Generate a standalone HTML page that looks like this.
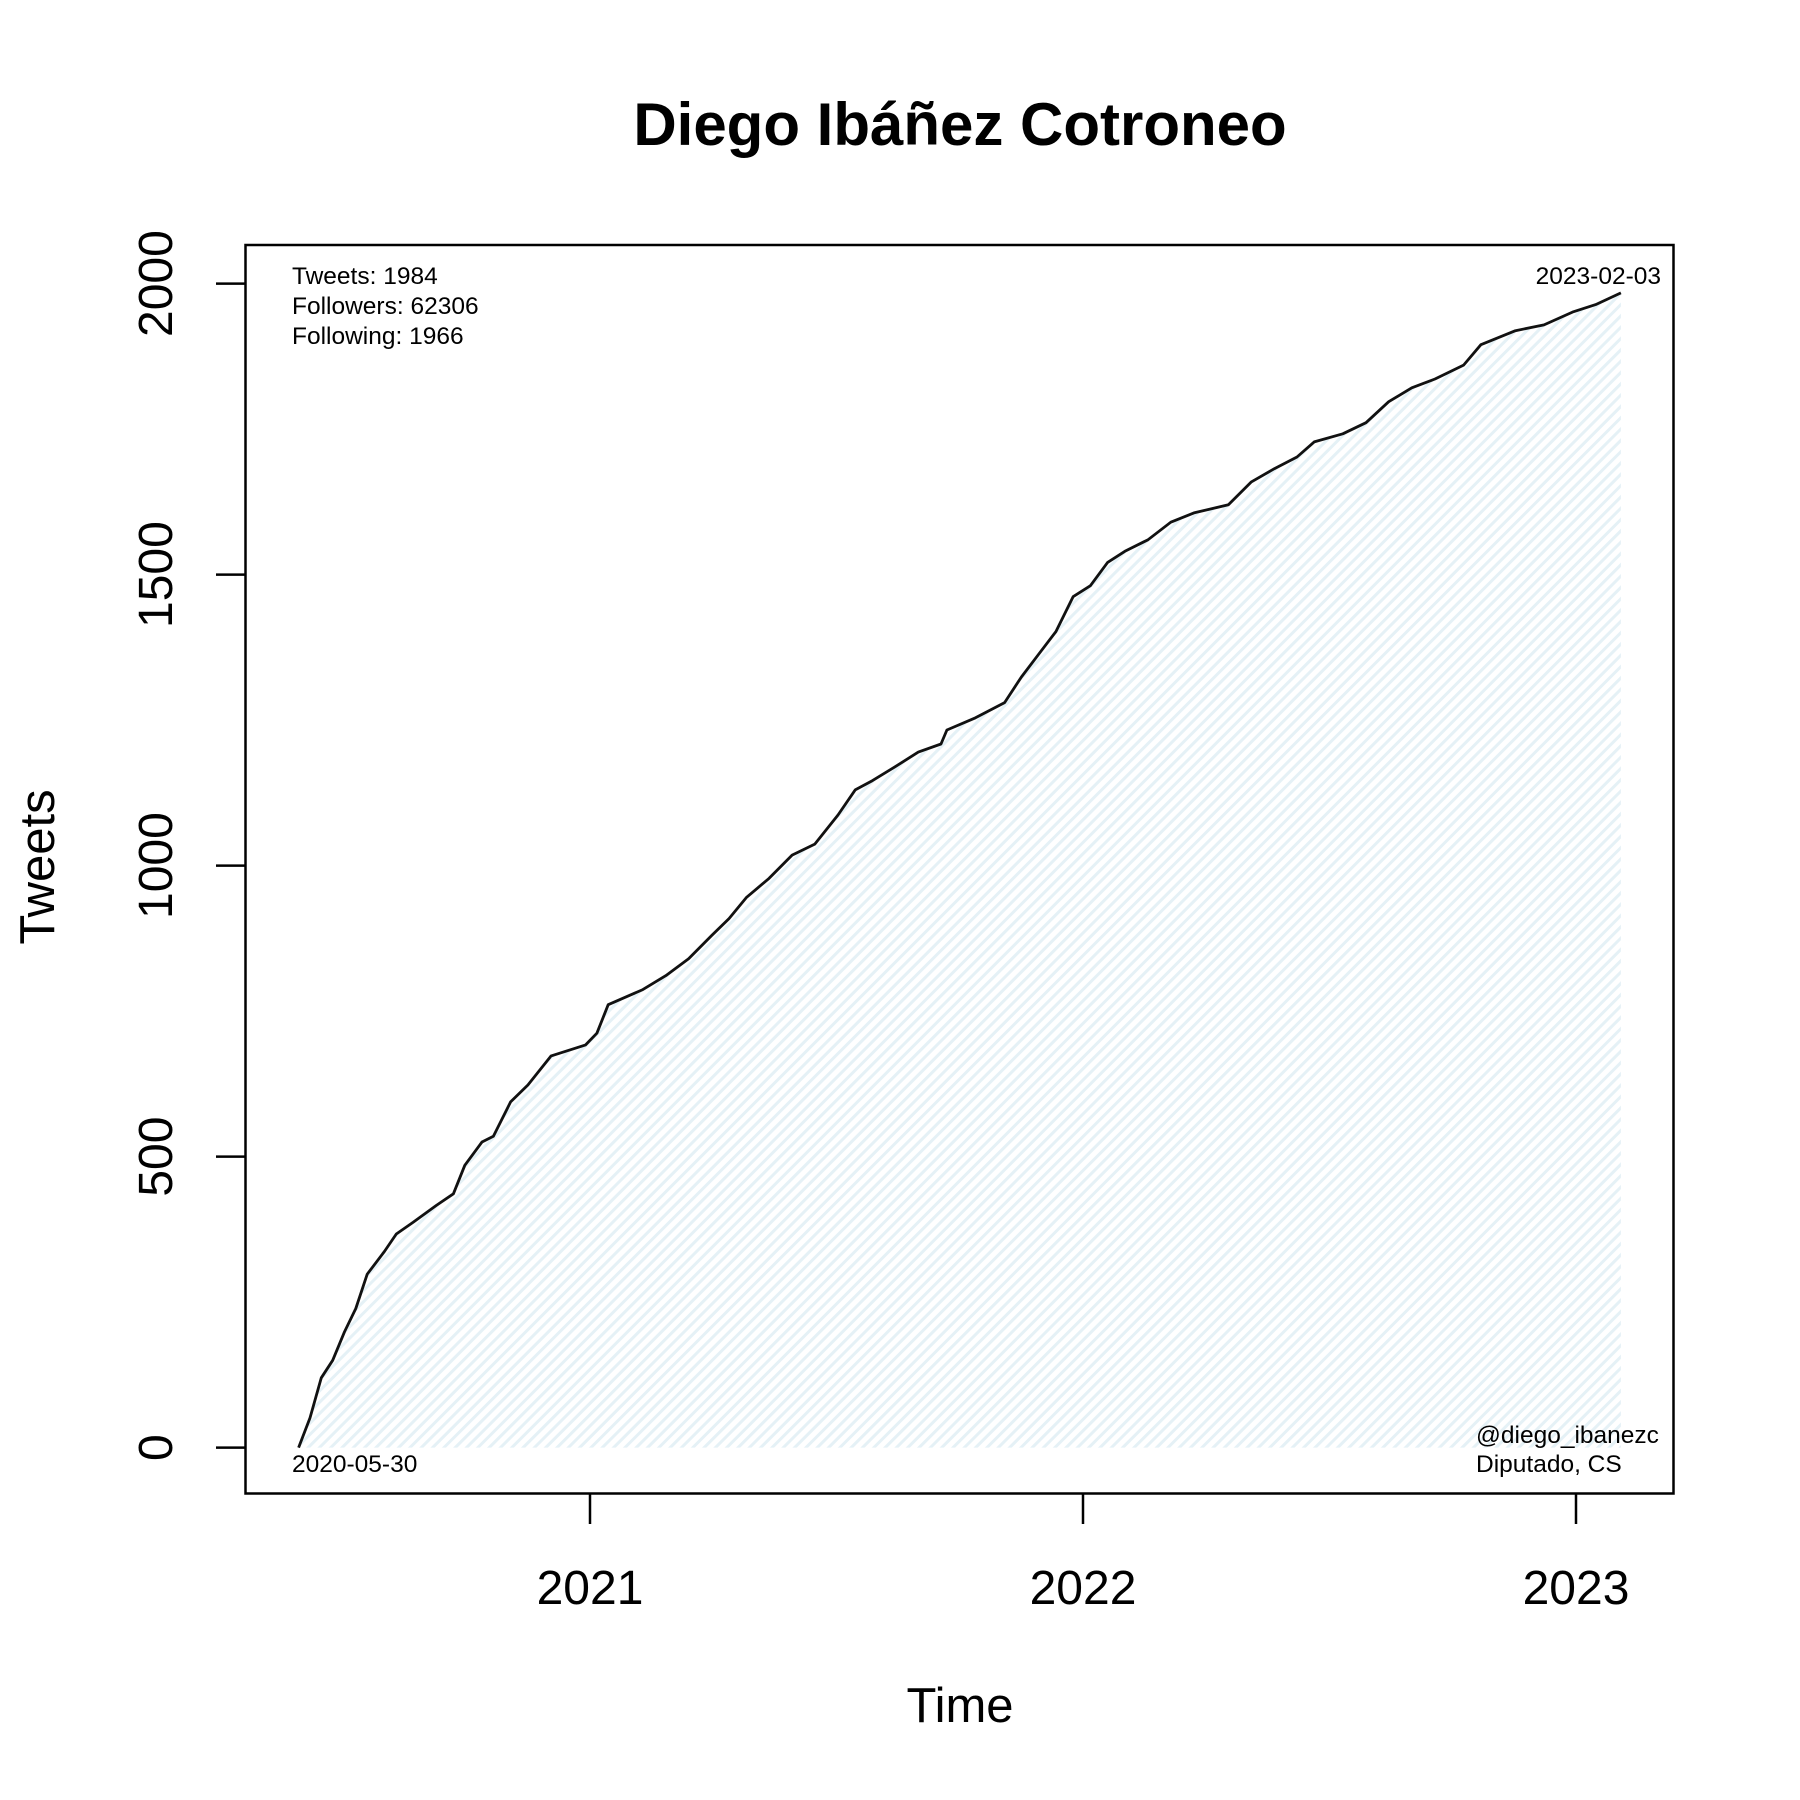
<!DOCTYPE html>
<html><head><meta charset="utf-8"><style>body{margin:0;background:#fff}svg{display:block}text{font-family:"Liberation Sans",Arial,sans-serif;fill:#000}</style></head>
<body>
<svg id="chart" width="1800" height="1800" viewBox="0 0 1800 1800">
<defs><pattern id="hatch" width="8" height="8" patternUnits="userSpaceOnUse" patternTransform="rotate(45)"><rect width="8" height="8" fill="#fff"/><rect x="0" y="0" width="3" height="8" fill="#e5f1f6"/></pattern></defs>
<text x="960" y="145" text-anchor="middle" font-size="60" font-weight="bold">Diego Ibáñez Cotroneo</text>
<g id="marks"></g>
<rect x="245.5" y="245" width="1428" height="1248.5" fill="none" stroke="#000" stroke-width="2.5"/>
<g id="axes"></g>
<text x="292" y="284" font-size="24.5">Tweets: 1984</text>
<text x="292" y="314" font-size="24.5">Followers: 62306</text>
<text x="292" y="344" font-size="24.5">Following: 1966</text>
<text x="1661" y="284" font-size="24.5" text-anchor="end">2023-02-03</text>
<text x="292" y="1472" font-size="24.5">2020-05-30</text>
<text x="1476" y="1443" font-size="24.5">@diego_ibanezc</text>
<text x="1476" y="1472" font-size="24.5">Diputado, CS</text>
<text x="960" y="1722" text-anchor="middle" font-size="49">Time</text>
<text transform="translate(54,867) rotate(-90)" text-anchor="middle" font-size="49">Tweets</text>
</svg>
<script>
const dates=[2020.409,2020.432,2020.455,2020.478,2020.502,2020.525,2020.548,2020.583,2020.607,2020.641,2020.688,2020.723,2020.746,2020.781,2020.804,2020.839,2020.874,2020.921,2020.991,2021.014,2021.037,2021.107,2021.154,2021.200,2021.247,2021.282,2021.317,2021.363,2021.410,2021.456,2021.503,2021.538,2021.573,2021.619,2021.666,2021.712,2021.724,2021.782,2021.841,2021.875,2021.910,2021.945,2021.980,2022.015,2022.050,2022.085,2022.132,2022.178,2022.225,2022.295,2022.341,2022.388,2022.434,2022.469,2022.527,2022.574,2022.620,2022.667,2022.714,2022.772,2022.807,2022.877,2022.935,2022.993,2023.040,2023.091];
const tweets=[0,51,120,150,199,239,298,337,367,387,416,436,485,525,535,594,623,673,692,712,761,787,811,840,880,909,945,978,1018,1037,1087,1130,1146,1170,1195,1209,1233,1254,1280,1324,1363,1402,1462,1481,1521,1540,1560,1590,1606,1620,1659,1682,1702,1728,1742,1761,1797,1821,1836,1860,1895,1919,1929,1951,1964,1984];
const yTicks=[0,500,1000,1500,2000];
const xTicks=[2021,2022,2023];
const NS='http://www.w3.org/2000/svg';
const X=d=>590+(d-2021)*493;
const Y=v=>1447.6-v*0.582;
const marks=document.getElementById('marks'),axes=document.getElementById('axes');
function mk(tag,attrs,parent){const e=document.createElementNS(NS,tag);for(const k in attrs)e.setAttribute(k,attrs[k]);parent.appendChild(e);return e;}
let pts=dates.map((d,i)=>X(d).toFixed(1)+','+Y(tweets[i]).toFixed(1));
const area=mk('polygon',{points:pts.join(' ')+' '+X(dates[dates.length-1]).toFixed(1)+','+Y(0)+' '+X(dates[0]).toFixed(1)+','+Y(0),fill:'url(#hatch)'},marks);


const line=mk('polyline',{points:pts.join(' '),fill:'none',stroke:'#111','stroke-width':2.8,'stroke-linejoin':'round'},marks);


yTicks.forEach(v=>{
 const t=mk('line',{x1:216,x2:245.5,y1:Y(v),y2:Y(v),stroke:'#000','stroke-width':2.5},axes);
 
 
 const l=mk('text',{transform:`translate(172,${Y(v)}) rotate(-90)`,'text-anchor':'middle','font-size':48},axes);
 l.textContent=v;
 
 
});
xTicks.forEach(v=>{
 const t=mk('line',{x1:X(v),x2:X(v),y1:1493.5,y2:1524,stroke:'#000','stroke-width':2.5},axes);
 
 
 const l=mk('text',{x:X(v),y:1604,'text-anchor':'middle','font-size':48},axes);
 l.textContent=v;
 
 
});
</script>
</body></html>
